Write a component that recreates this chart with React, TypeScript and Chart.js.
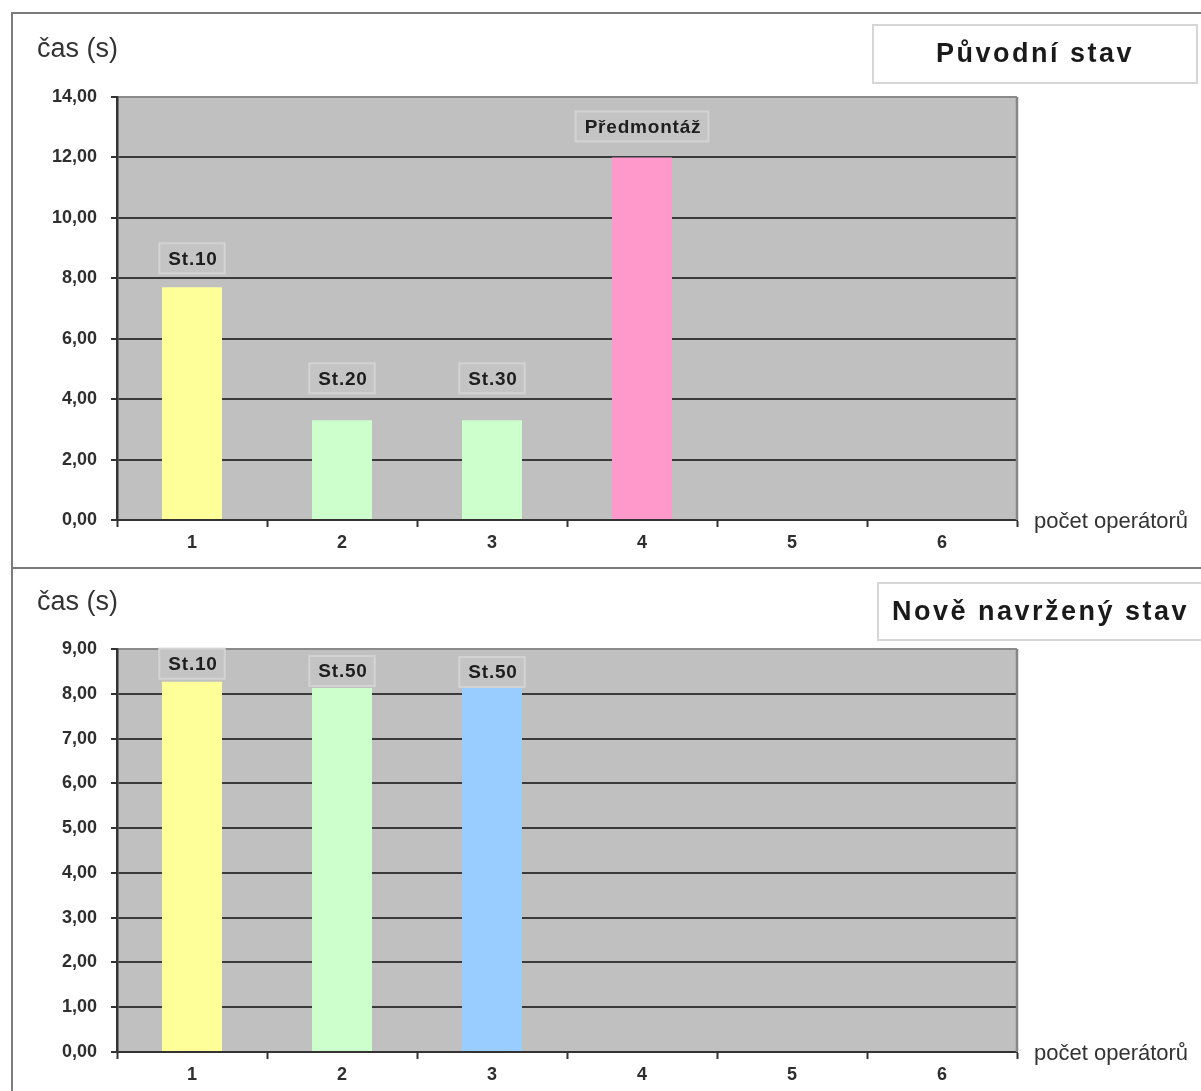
import React, { useEffect, useRef } from 'react';
import { Chart, registerables } from 'chart.js';

Chart.register(...registerables);

// Operator count categories on the x axis
const operatorCounts = ['1', '2', '3', '4', '5', '6'];

// Original state: cycle time per station (s)
const originalTimes = [7.7, 3.3, 3.3, 12.0, null, null];
const originalStations = ['St.10', 'St.20', 'St.30', 'Předmontáž'];
const originalColors = ['#ffff99', '#ccffcc', '#ccffcc', '#ff99cc'];
const originalAxisMax = 14;
const originalAxisStep = 2;

// Newly proposed state: cycle time per station (s)
const proposedTimes = [8.27, 8.13, 8.13, null, null, null];
const proposedStations = ['St.10', 'St.50', 'St.50'];
const proposedColors = ['#ffff99', '#ccffcc', '#99ccff'];
const proposedAxisMax = 9;
const proposedAxisStep = 1;

const FONT = '"Liberation Sans", Arial, sans-serif';
const W = 1201;

type PanelProps = {
  top: number;
  height: number;
  areaTop: number;
  areaBottom: number;
  times: (number | null)[];
  stations: string[];
  colors: string[];
  axisMax: number;
  axisStep: number;
  title: string;
  titleBox: { x: number; y: number; w: number; h: number };
  yTitleY: number;
  labelLift: number[];
};

function Panel(p: PanelProps) {
  const ref = useRef<HTMLCanvasElement | null>(null);

  useEffect(() => {
    if (!ref.current) return;
    const areaLeft = 117;
    const areaRight = 1017;

    const decor = {
      id: 'decor',
      beforeDraw(chart: any) {
        const { ctx, chartArea: a } = chart;
        ctx.save();
        ctx.fillStyle = '#c0c0c0';
        ctx.fillRect(a.left, a.top, a.right - a.left, a.bottom - a.top);
        ctx.restore();
      },
      afterDraw(chart: any) {
        const { ctx, chartArea: a } = chart;
        ctx.save();
        // plot frame on the right
        ctx.strokeStyle = '#868686';
        ctx.lineWidth = 2.5;
        ctx.beginPath();
        ctx.moveTo(a.right, a.top);
        ctx.lineTo(a.right, a.bottom);
        ctx.stroke();

        // station labels above bars
        const meta = chart.getDatasetMeta(0);
        ctx.font = `bold 19px ${FONT}`;
        (ctx as any).letterSpacing = '0.8px';
        ctx.textAlign = 'center';
        ctx.textBaseline = 'middle';
        p.stations.forEach((name, i) => {
          const bar = meta.data[i];
          if (!bar) return;
          const tw = ctx.measureText(name).width;
          const bw = tw + 16;
          const bh = 30;
          const bottom = bar.y - p.labelLift[i];
          const x0 = bar.x - bw / 2;
          const y0 = bottom - bh;
          ctx.fillStyle = '#c4c4c4';
          ctx.fillRect(x0, y0, bw, bh);
          ctx.strokeStyle = '#d3d3d3';
          ctx.lineWidth = 2;
          ctx.strokeRect(x0, y0, bw, bh);
          ctx.fillStyle = '#1e1e1e';
          ctx.fillText(name, bar.x + 1, y0 + bh / 2 + 1);
        });

        // y axis title
        (ctx as any).letterSpacing = '0px';
        ctx.font = `27px ${FONT}`;
        ctx.fillStyle = '#333333';
        ctx.textAlign = 'left';
        ctx.textBaseline = 'middle';
        ctx.fillText('čas (s)', 37, p.yTitleY);

        // x axis title
        ctx.font = `22px ${FONT}`;
        ctx.fillText('počet operátorů', 1034, a.bottom + 2);

        // chart title box
        const tb = p.titleBox;
        ctx.fillStyle = '#ffffff';
        ctx.fillRect(tb.x, tb.y, tb.w, tb.h);
        ctx.strokeStyle = '#d6d6d6';
        ctx.lineWidth = 2;
        ctx.strokeRect(tb.x, tb.y, tb.w, tb.h);
        ctx.font = `bold 27px ${FONT}`;
        (ctx as any).letterSpacing = '2.5px';
        ctx.fillStyle = '#1a1a1a';
        ctx.textAlign = 'center';
        ctx.fillText(p.title, tb.x + tb.w / 2, tb.y + tb.h / 2 + 1);
        ctx.restore();
      },
    };

    const xHeight = p.height - p.areaBottom;
    const chart = new Chart(ref.current, {
      type: 'bar',
      data: {
        labels: operatorCounts,
        datasets: [
          {
            data: p.times,
            backgroundColor: p.colors,
            borderWidth: 0,
            barPercentage: 0.4,
            categoryPercentage: 1,
          },
        ],
      },
      options: {
        animation: false,
        responsive: false,
        events: [],
        layout: {
          padding: { left: 0, top: p.areaTop, right: W - areaRight, bottom: 0 },
        },
        plugins: {
          legend: { display: false },
          tooltip: { enabled: false },
          title: { display: false },
        },
        scales: {
          x: {
            afterFit: (s: any) => {
              s.height = xHeight;
            },
            grid: {
              display: true,
              offset: true,
              drawOnChartArea: false,
              drawTicks: true,
              tickLength: 7,
              tickColor: '#333333',
              tickWidth: 2,
            },
            border: { display: true, color: '#333333', width: 2, z: 1 },
            ticks: {
              font: { family: FONT, size: 18, weight: 'bold' },
              color: '#2e2e2e',
              padding: 5,
              maxRotation: 0,
            },
          },
          y: {
            min: 0,
            max: p.axisMax,
            afterFit: (s: any) => {
              s.width = areaLeft;
            },
            grid: {
              color: (c: any) => (c.tick && c.tick.value === p.axisMax ? '#8a8a8a' : '#3a3a3a'),
              lineWidth: 2,
              tickLength: 6,
              tickColor: '#333333',
              tickWidth: 2,
            },
            border: { display: true, color: '#333333', width: 2.5, z: 1 },
            ticks: {
              stepSize: p.axisStep,
              font: { family: FONT, size: 18, weight: 'bold' },
              color: '#2e2e2e',
              padding: 14,
              callback: (v: any) => Number(v).toFixed(2).replace('.', ','),
            },
          },
        },
      },
      plugins: [decor],
    });
    return () => chart.destroy();
  }, []);

  return (
    <canvas
      ref={ref}
      width={W}
      height={p.height}
      style={{ position: 'absolute', left: 0, top: p.top, width: W, height: p.height }}
    />
  );
}

export default function App() {
  const line = '#7c7c7c';
  return (
    <div
      style={{
        position: 'fixed',
        left: 0,
        top: 0,
        width: W,
        height: 1091,
        overflow: 'hidden',
        background: '#ffffff',
      }}
    >
      <Panel
        top={0}
        height={566}
        areaTop={97}
        areaBottom={520}
        times={originalTimes}
        stations={originalStations}
        colors={originalColors}
        axisMax={originalAxisMax}
        axisStep={originalAxisStep}
        title="Původní stav"
        titleBox={{ x: 873, y: 25, w: 324, h: 58 }}
        yTitleY={50}
        labelLift={[14, 27, 27, 16]}
      />
      <Panel
        top={568}
        height={523}
        areaTop={81}
        areaBottom={484}
        times={proposedTimes}
        stations={proposedStations}
        colors={proposedColors}
        axisMax={proposedAxisMax}
        axisStep={proposedAxisStep}
        title="Nově navržený stav"
        titleBox={{ x: 878, y: 15, w: 325, h: 57 }}
        yTitleY={35}
        labelLift={[3, 2, 1]}
      />
      {/* panel frames */}
      <div style={{ position: 'absolute', left: 11, top: 12, width: W - 11, height: 2, background: line }} />
      <div style={{ position: 'absolute', left: 11, top: 12, width: 2, height: 1079, background: line }} />
      <div style={{ position: 'absolute', left: 11, top: 567, width: W - 11, height: 2, background: line }} />
    </div>
  );
}
